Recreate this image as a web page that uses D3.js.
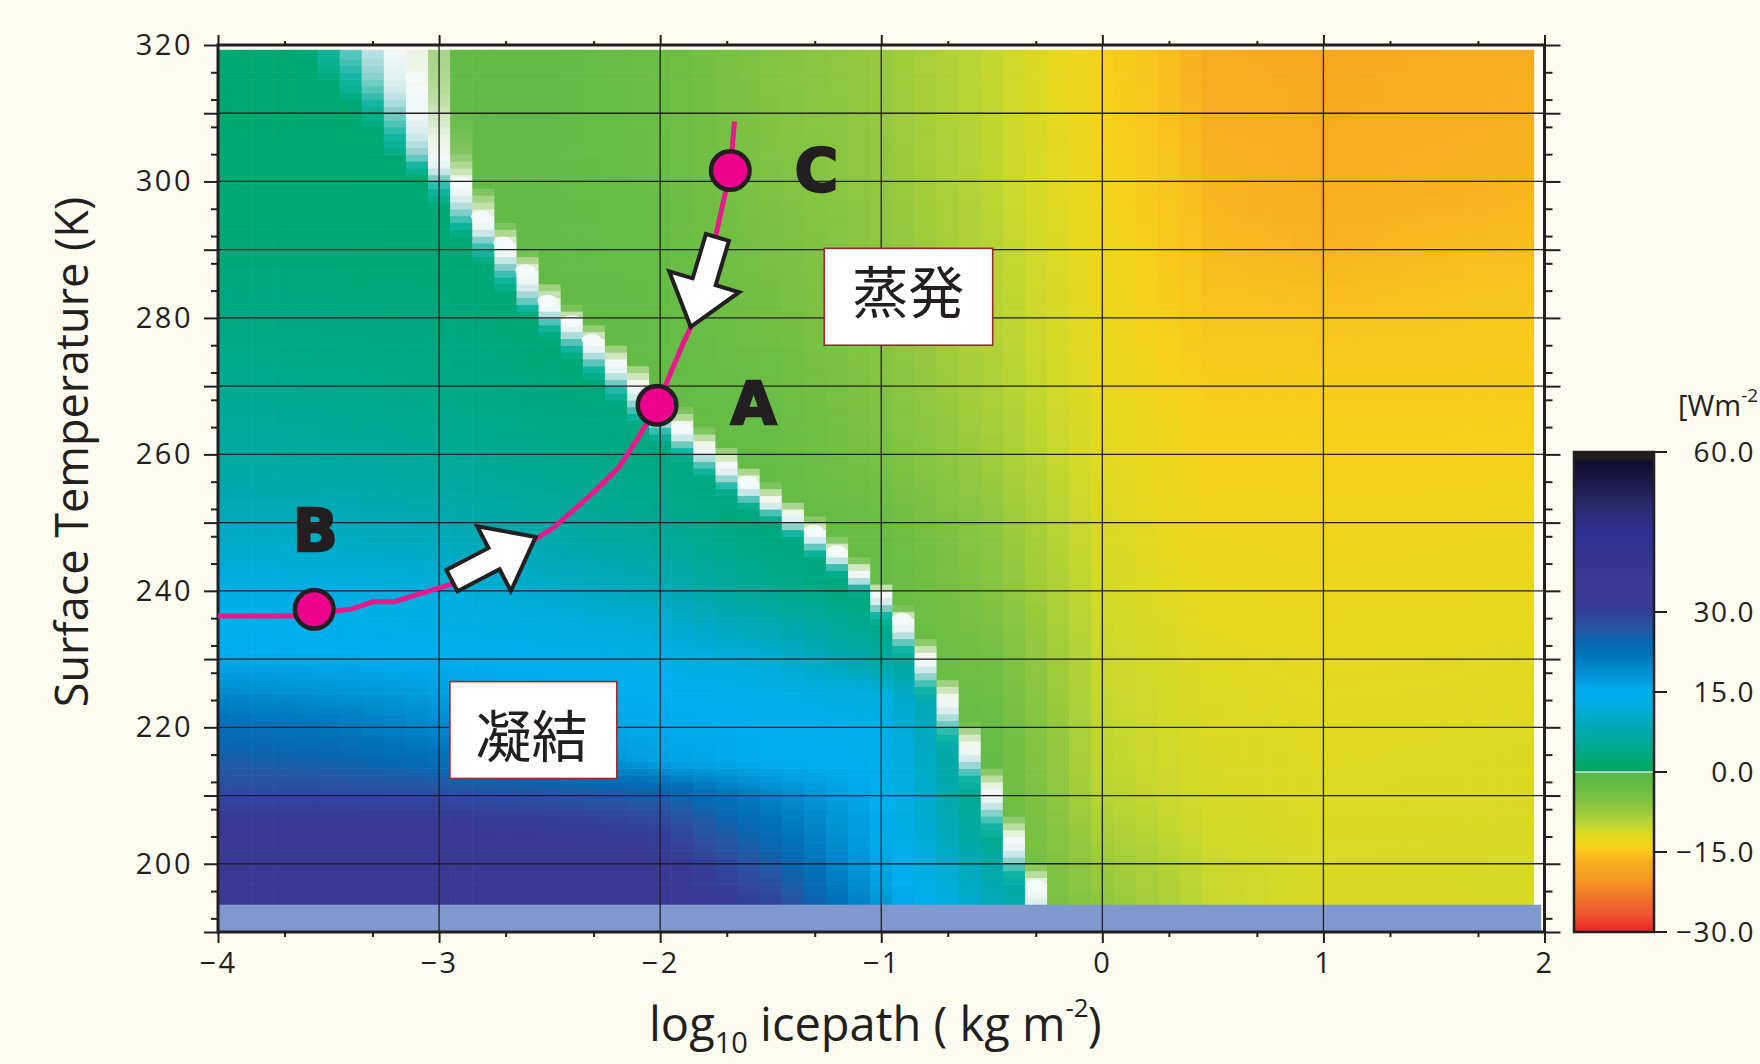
<!DOCTYPE html>
<html><head><meta charset="utf-8">
<script src="https://cdn.jsdelivr.net/npm/d3@7"></script>
<style>
html,body{margin:0;padding:0;background:#fdfcf0;}
svg{display:block;}
</style></head>
<body><svg id="chart" width="1760" height="1064"></svg>
<script>
// ---------------- data ----------------
// grid nodes of the field (log10 icepath, surface temperature)
const gridIce  = [-4, -3.5, -3, -2.5, -2, -1.5, -1, -0.5, 0, 0.5, 1, 1.5, 2];
const gridTemp = [194, 200, 205, 210, 215, 220, 225, 230, 240, 250, 260, 270, 280, 290, 300, 310, 320];
// condensation side (positive Wm-2), one row per gridTemp
const condFlux = [
  [35,   35,   35,   35,   34.5, 30,   18,   9,   2, 2, 2, 2, 2],
  [34.5, 34.5, 34.5, 34,   33,   26,   16,   7,   2, 2, 2, 2, 2],
  [33,   33,   33,   32,   30,   23,   15.5, 4,   2, 2, 2, 2, 2],
  [29,   29,   28.5, 27.5, 26,   20,   15,   3,   2, 2, 2, 2, 2],
  [26,   25,   23,   20,   16.5, 15,   14.5, 2.5, 2, 2, 2, 2, 2],
  [23,   22,   19.5, 16.5, 15.5, 15,   14,   2,   2, 2, 2, 2, 2],
  [19.5, 18.5, 17,   15.5, 15,   14,   12,   2,   2, 2, 2, 2, 2],
  [15.5, 15.5, 15,   14.5, 13.5, 11,   6.5,  2,   2, 2, 2, 2, 2],
  [13,   12.8, 12,   10.5, 8.5,  5,    2,    2,   2, 2, 2, 2, 2],
  [9,    8.8,  8,    6.5,  5,    2.5,  2,    2,   2, 2, 2, 2, 2],
  [6.5,  6.2,  5.5,  4.5,  3.5,  2,    2,    2,   2, 2, 2, 2, 2],
  [5,    4.5,  4,    3,    2.2,  2,    2,    2,   2, 2, 2, 2, 2],
  [3.5,  3.3,  3,    2.2,  2,    2,    2,    2,   2, 2, 2, 2, 2],
  [2.5,  2.5,  2.3,  2,    2,    2,    2,    2,   2, 2, 2, 2, 2],
  [2.2,  2.2,  2,    2,    2,    2,    2,    2,   2, 2, 2, 2, 2],
  [2,    2,    2,    2,    2,    2,    2,    2,   2, 2, 2, 2, 2],
  [2,    2,    2,    2,    2,    2,    2,    2,   2, 2, 2, 2, 2]
];
// evaporation side (negative Wm-2), one row per gridTemp
const evapFlux = [
  [-2, -2, -2, -2, -2,   -2,   -2,   -2,   -6.5,  -10.3, -11.5, -11.5, -11.4],
  [-2, -2, -2, -2, -2,   -2,   -2,   -2,   -7.5,  -10.5, -11.5, -11.4, -11.3],
  [-2, -2, -2, -2, -2,   -2,   -2,   -2,   -8.5,  -11,   -11.7, -11.6, -11.5],
  [-2, -2, -2, -2, -2,   -2,   -2,   -2,   -9.5,  -11.3, -11.8, -11.7, -11.6],
  [-2, -2, -2, -2, -2,   -2,   -2,   -2.2, -9.8,  -11.5, -11.9, -11.8, -11.7],
  [-2, -2, -2, -2, -2,   -2,   -2,   -2.5, -10,   -11.7, -12,   -11.9, -11.8],
  [-2, -2, -2, -2, -2,   -2,   -2,   -3.2, -10.2, -11.8, -12.1, -12,   -11.9],
  [-2, -2, -2, -2, -2,   -2,   -2,   -4,   -10.5, -12,   -12.3, -12.2, -12],
  [-2, -2, -2, -2, -2,   -2,   -2.2, -5.5, -11,   -12.7, -13,   -12.9, -12.7],
  [-2, -2, -2, -2, -2,   -2,   -2.8, -6.5, -11.5, -13.3, -13.5, -13.4, -13.2],
  [-2, -2, -2, -2, -2,   -2.3, -4.5, -7.8, -12,   -14,   -14,   -14,   -13.8],
  [-2, -2, -2, -2, -2,   -3,   -5.5, -8.7, -12.5, -14.5, -14.5, -14.5, -14.5],
  [-2, -2, -2, -2, -2.2, -3.8, -6,   -9.2, -12.8, -15.3, -15.5, -15.3, -15],
  [-2, -2, -2, -2, -2.5, -4.5, -6.3, -9.5, -13,   -16,   -16.5, -16,   -15.8],
  [-2, -2, -2, -2, -2.7, -5,   -6.8, -9.8, -13.5, -16.5, -17,   -16.8, -16.5],
  [-2, -2, -2, -2, -2.9, -5.3, -7,   -10,  -13.8, -17,   -17.5, -17.1, -16.8],
  [-2, -2, -2, -2, -3,   -5.5, -7.2, -10.2, -14,  -17.2, -17.8, -17.3, -17]
];
// zero line (boundary between condensation and evaporation)
const zeroTemp = [319.3, 315.3, 304, 299.8, 294.9, 291, 287, 282.5, 279.5, 276.8, 272, 267.2, 264, 261.3, 258.6, 256, 253.4, 251.4, 248.8, 245.8, 242.9, 239.8, 235.9, 230.5, 224.4, 217.4, 211, 203.8, 196.8, 194];
const zeroIce  = [-3.13, -3.11, -3.0, -2.9, -2.81, -2.71, -2.61, -2.51, -2.4, -2.31, -2.15, -2.01, -1.905, -1.8, -1.7, -1.605, -1.5, -1.4, -1.306, -1.2, -1.1, -1.0, -0.907, -0.8, -0.7, -0.6, -0.5, -0.4, -0.3, -0.27];
const blobIce  = [-3.11, -2.9, -2.81, -2.71, -2.61, -2.51, -2.4, -2.31, -1.905, -1.605, -1.306, -1.2, -0.907, -0.3];
const blobTemp = [315.3, 299.8, 294.9, 291, 287, 282.5, 279.5, 276.8, 264, 256, 248.8, 245.8, 235.9, 196.8];
// model trajectory
const pathIce  = [-4.0, -3.67, -3.48, -3.394, -3.30, -3.204, -2.944, -2.563, -2.476, -2.303, -2.19, -2.104, -2.014, -1.896, -1.853, -1.749, -1.683, -1.664];
const pathTemp = [236.3, 236.3, 237.0, 237.35, 238.4, 238.4, 241.0, 247.6, 249.4, 254.4, 258.0, 262.2, 267.2, 276.3, 279.2, 292.0, 301.6, 308.8];
// states
const stateNames = ["A", "B", "C"];
const stateIce   = [-2.014, -3.565, -1.683];
const stateTemp  = [267.2, 237.3, 301.6];
const stateLabelIce  = [-1.578, -3.56, -1.293];
const stateLabelTemp = [264.4, 245.8, 298.6];
// arrows (tail -> tip)
const arrowTailIce  = [-2.942, -1.741];
const arrowTailTemp = [241.5, 291.8];
const arrowTipIce   = [-2.563, -1.862];
const arrowTipTemp  = [247.9, 278.7];
// region boxes
const boxText    = ["蒸発", "凝結"];
const boxIce0    = [-1.258, -2.951];
const boxIce1    = [-0.496, -2.196];
const boxTemp0   = [276.0, 212.5];
const boxTemp1   = [290.2, 226.7];
const boxTextIce = [-0.878, -2.582];
const boxTextTemp= [284.3, 219.2];
// colour scale
const colorValues = [-30, -27, -23, -20, -17, -15.5, -14, -12.5, -11, -9.5, -8, -6.5, -4.5, -3, -1.5, -0.25, 0, 0.25, 1.5, 3, 5, 7.5, 10, 12.5, 15, 17, 19.5, 22, 24.5, 26.5, 28.5, 30.5, 33, 36, 40, 45, 50, 54, 58, 59, 60];
const colorStops  = ["#ec2227","#ee532e","#f17a29","#f59a22","#f7ad20","#f9c21d","#f6d11b","#e8d81e","#d2da28","#b7d434","#a2cd3a","#8ec63f","#78c143","#6bbd45","#5fba46","#58b848","#e6f2ee","#00a664","#00a86b","#00a87c","#00a991","#00a9ab","#00abc8","#00aee2","#00aeef","#009ee0","#0088cc","#0073bb","#0a66b0","#2359a6","#2d4b9e","#343e97","#3a3994","#3b3994","#34358f","#2e3192","#2a2b6c","#1c1b4a","#0f0c2e","#231f20","#231f20"];
const fluxTicks = [60, 30, 15, 0, -15, -30];
// halo width around the zero line (in 0.1-decade columns)
const haloTemp  = [194, 240, 255, 270, 285, 300, 310, 320];
const haloLeft  = [1.0, 1.1, 1.7, 1.8, 1.6, 1.6, 2.8, 5];
const haloRight = [0.45, 0.5, 0.95, 1.0, 0.75, 0.9, 1.6, 2];

// ---------------- drawing ----------------
const ink = "#231f20";
const svg = d3.select("#chart");
const x = d3.scaleLinear().domain([-4, 2]).range([218, 1544.5]);
const y = d3.scaleLinear().domain([190, 320]).range([932, 45]);
const fluxColor = d3.scaleLinear().domain(colorValues).range(colorStops).interpolate(d3.interpolateRgb).clamp(true);
const zeroLine = d3.scaleLinear().domain(zeroTemp).range(zeroIce);
const wL = d3.scaleLinear().domain(haloTemp).range(haloLeft).clamp(true);
const wR = d3.scaleLinear().domain(haloTemp).range(haloRight).clamp(true);
const leftHalo = d3.scaleLinear().domain([0, 0.16, 0.32, 0.5, 0.72]).range(["#f3f9f8","#eef7f6","#cbe8e9","#7ccdc5","#12b6a5"]).clamp(true);
const rightHalo = d3.scaleLinear().domain([0, 0.2, 0.45, 0.72]).range(["#f4f8f0","#e8f2df","#c0e0a8","#9fd07e"]).clamp(true);

function bilinear(grid, xv, tv) {
  const i = Math.max(0, Math.min(gridIce.length - 2, d3.bisectRight(gridIce, xv) - 1));
  const j = Math.max(0, Math.min(gridTemp.length - 2, d3.bisectRight(gridTemp, tv) - 1));
  const fx = Math.max(0, Math.min(1, (xv - gridIce[i]) / (gridIce[i + 1] - gridIce[i])));
  const fy = Math.max(0, Math.min(1, (tv - gridTemp[j]) / (gridTemp[j + 1] - gridTemp[j])));
  return grid[j][i] * (1 - fx) * (1 - fy) + grid[j][i + 1] * fx * (1 - fy) +
         grid[j + 1][i] * (1 - fx) * fy + grid[j + 1][i + 1] * fx * fy;
}
function cellColor(c, tc) {
  const s = (c - zeroLine(tc)) / 0.1;
  if (s < 0) {
    const base = fluxColor(bilinear(condFlux, c, tc));
    const t = -s / wL(tc);
    if (t >= 1.05) return base;
    if (t >= 0.72) return d3.interpolateRgb("#12b6a5", base)((t - 0.72) / 0.33);
    return leftHalo(t);
  } else {
    const base = fluxColor(bilinear(evapFlux, c, tc));
    const t = s / wR(tc);
    if (t >= 1) return base;
    if (t >= 0.72) return d3.interpolateRgb("#9fd07e", base)((t - 0.72) / 0.28);
    return rightHalo(t);
  }
}

// heat map cells
const cols = d3.range(60).map(k => +(-4 + k * 0.1).toFixed(2));
const rows = d3.range(194, 319.3, 1);
const cells = [];
for (const T0 of rows) {
  const T1 = Math.min(T0 + 1, 319.3), tc = (T0 + T1) / 2;
  for (const c of cols) {
    cells.push({x0: Math.max(-4, c - 0.05), x1: c + 0.05, T0, T1, fill: cellColor(c, tc)});
  }
}
const heat = svg.append("g");
heat.selectAll("rect").data(cells).join("rect")
  .attr("x", d => x(d.x0)).attr("y", d => y(d.T1))
  .attr("width", d => x(d.x1) - x(d.x0) + 0.6)
  .attr("height", d => y(d.T0) - y(d.T1) + 0.6)
  .attr("fill", d => d.fill);

// white blobs on zero line
svg.append("g").selectAll("ellipse").data(blobIce).join("ellipse")
  .attr("cx", d => x(d)).attr("cy", (d, i) => y(blobTemp[i]))
  .attr("rx", 10).attr("ry", 6).attr("fill", "#f5fafb");

// missing-data band at bottom
svg.append("rect").attr("x", x(-4)).attr("y", y(194)).attr("width", x(1.985) - x(-4)).attr("height", y(190) - y(194)).attr("fill", "#7f99cf");

// grid lines
const grid = svg.append("g").attr("stroke", ink).attr("stroke-width", 1.3);
grid.selectAll(".v").data([-3, -2, -1, 0, 1]).join("line").attr("class", "v")
  .attr("x1", d => x(d)).attr("x2", d => x(d)).attr("y1", y(320)).attr("y2", y(190));
grid.selectAll(".h").data(d3.range(200, 311, 10)).join("line").attr("class", "h")
  .attr("y1", d => y(d)).attr("y2", d => y(d)).attr("x1", x(-4)).attr("x2", x(2));

// axes
const tickFont = g => g.selectAll("text").attr("font-family", "'Open Sans', sans-serif").attr("font-size", 29).attr("fill", ink).attr("letter-spacing", 2.5);
const styleAxis = g => { g.select(".domain").remove(); g.selectAll("line").attr("stroke", ink).attr("stroke-width", 2); };
const fmt = d => d < 0 ? "\u2212" + Math.abs(d) : String(d);
const yMajor = d3.range(190, 321, 10);
const yMinor = d3.range(192, 321, 4).filter(v => v % 10 !== 0);
const xMajor = d3.range(-4, 2.01, 1);
const xMinor = d3.range(-4, 2, 1).flatMap(v => [v + Math.log10(2), v + Math.log10(5)]);

svg.append("g").attr("transform", `translate(${x(-4)},0)`)
  .call(d3.axisLeft(y).tickValues(yMajor).tickSize(14).tickPadding(11).tickFormat(d => d % 20 === 0 ? d : ""))
  .call(styleAxis).call(tickFont);
svg.append("g").attr("transform", `translate(${x(-4)},0)`)
  .call(d3.axisLeft(y).tickValues(yMinor).tickSize(7).tickFormat("")).call(styleAxis);
svg.append("g").attr("transform", `translate(${x(2)},0)`)
  .call(d3.axisRight(y).tickValues(yMajor).tickSize(16).tickFormat("")).call(styleAxis);
svg.append("g").attr("transform", `translate(${x(2)},0)`)
  .call(d3.axisRight(y).tickValues(yMinor).tickSize(8).tickFormat("")).call(styleAxis);
svg.append("g").attr("transform", `translate(0,${y(190)})`)
  .call(d3.axisBottom(x).tickValues(xMajor).tickSize(11).tickPadding(9).tickFormat(fmt))
  .call(styleAxis).call(tickFont);
svg.append("g").attr("transform", `translate(0,${y(190)})`)
  .call(d3.axisBottom(x).tickValues(xMinor).tickSize(5).tickFormat("")).call(styleAxis);
svg.append("g").attr("transform", `translate(0,${y(320)})`)
  .call(d3.axisTop(x).tickValues(xMajor).tickSize(10).tickFormat("")).call(styleAxis);
svg.append("g").attr("transform", `translate(0,${y(320)})`)
  .call(d3.axisTop(x).tickValues(xMinor).tickSize(4).tickFormat("")).call(styleAxis);

// frame
svg.append("rect").attr("x", x(-4)).attr("y", y(320)).attr("width", x(2) - x(-4)).attr("height", y(190) - y(320))
  .attr("fill", "none").attr("stroke", ink).attr("stroke-width", 3);

// trajectory
svg.append("path").datum(pathIce.map((v, i) => [v, pathTemp[i]]))
  .attr("d", d3.line().x(d => x(d[0])).y(d => y(d[1])))
  .attr("fill", "none").attr("stroke", "#e8198b").attr("stroke-width", 5).attr("stroke-linejoin", "round");

// arrows
function arrowPoints(i) {
  const tx = x(arrowTailIce[i]), ty = y(arrowTailTemp[i]);
  const px = x(arrowTipIce[i]), py = y(arrowTipTemp[i]);
  const len = Math.hypot(px - tx, py - ty), ux = (px - tx) / len, uy = (py - ty) / len;
  const nx = -uy, ny = ux, sw = 12, hw = 36.5, hl = 47;
  const bx = px - ux * hl, by = py - uy * hl;
  return [[tx + nx * sw, ty + ny * sw], [bx + nx * sw, by + ny * sw], [bx + nx * hw, by + ny * hw], [px, py],
          [bx - nx * hw, by - ny * hw], [bx - nx * sw, by - ny * sw], [tx - nx * sw, ty - ny * sw]];
}
svg.append("g").selectAll("polygon").data([0, 1]).join("polygon")
  .attr("points", i => arrowPoints(i).map(p => p.join(",")).join(" "))
  .attr("fill", "#ffffff").attr("stroke", ink).attr("stroke-width", 4).attr("stroke-linejoin", "miter");

// states
svg.append("g").selectAll("circle").data(stateNames).join("circle")
  .attr("cx", (d, i) => x(stateIce[i])).attr("cy", (d, i) => y(stateTemp[i]))
  .attr("r", 19.3).attr("fill", "#ec008c").attr("stroke", ink).attr("stroke-width", 4.5);
svg.append("g").selectAll("text").data(stateNames).join("text")
  .attr("x", (d, i) => x(stateLabelIce[i])).attr("y", (d, i) => y(stateLabelTemp[i]))
  .attr("text-anchor", "middle").attr("font-family", "'DejaVu Sans', sans-serif").attr("font-weight", "bold")
  .attr("font-size", 59).attr("fill", ink).attr("stroke", ink).attr("stroke-width", 2.5).text(d => d);

// region boxes
const boxes = svg.append("g").selectAll("g").data(boxText).join("g");
boxes.append("rect")
  .attr("x", (d, i) => x(boxIce0[i])).attr("y", (d, i) => y(boxTemp1[i]))
  .attr("width", (d, i) => x(boxIce1[i]) - x(boxIce0[i])).attr("height", (d, i) => y(boxTemp0[i]) - y(boxTemp1[i]))
  .attr("fill", "#ffffff").attr("stroke", "#9b2a2c").attr("stroke-width", 1.6);
boxes.append("text")
  .attr("x", (d, i) => x(boxTextIce[i])).attr("y", (d, i) => y(boxTextTemp[i]))
  .attr("text-anchor", "middle").attr("dominant-baseline", "central")
  .attr("font-family", "'Noto Sans CJK JP', sans-serif").attr("font-size", 56).attr("fill", ink).text(d => d);

// axis titles
svg.append("text").attr("transform", "translate(88,452) rotate(-90)").attr("text-anchor", "middle")
  .attr("font-family", "'Open Sans', sans-serif").attr("font-size", 45).attr("fill", ink).text("Surface Temperature (K)");
const xt = svg.append("text").attr("x", 649).attr("y", 1041)
  .attr("font-family", "'Open Sans', sans-serif").attr("font-size", 47).attr("fill", ink);
xt.append("tspan").text("log");
xt.append("tspan").attr("dy", 12).attr("font-size", 29).text("10");
xt.append("tspan").attr("dy", -12).text(" icepath ( kg m");
xt.append("tspan").attr("dy", -24).attr("font-size", 26).text("-2");
xt.append("tspan").attr("dy", 24).attr("dx", -1).text(")");

// colour bar
const cb = d3.scaleLinear().domain([-30, 60]).range([932, 452]);
const cbg = svg.append("g");
cbg.selectAll("rect").data(d3.range(452, 932)).join("rect")
  .attr("x", 1574).attr("y", d => d).attr("width", 80).attr("height", 1.2)
  .attr("fill", d => fluxColor(cb.invert(d + 0.5)));
cbg.append("rect").attr("x", 1574).attr("y", 452).attr("width", 80).attr("height", 480)
  .attr("fill", "none").attr("stroke", ink).attr("stroke-width", 2.5);
cbg.selectAll("line").data(fluxTicks).join("line")
  .attr("x1", 1655).attr("x2", 1667).attr("y1", d => cb(d)).attr("y2", d => cb(d))
  .attr("stroke", ink).attr("stroke-width", 2);
cbg.selectAll("text.tl").data(fluxTicks).join("text").attr("class", "tl")
  .attr("x", 1755).attr("y", d => cb(d) + 10).attr("text-anchor", "end")
  .attr("font-family", "'Open Sans', sans-serif").attr("font-size", 28).attr("letter-spacing", 1.5).attr("fill", ink)
  .text(d => (d < 0 ? "\u2212" : "") + Math.abs(d).toFixed(1));
const ut = svg.append("text").attr("x", 1678).attr("y", 416)
  .attr("font-family", "'Open Sans', sans-serif").attr("font-size", 29).attr("fill", ink);
ut.append("tspan").text("[Wm");
ut.append("tspan").attr("dy", -14).attr("font-size", 19).text("-2");
</script></body></html>
